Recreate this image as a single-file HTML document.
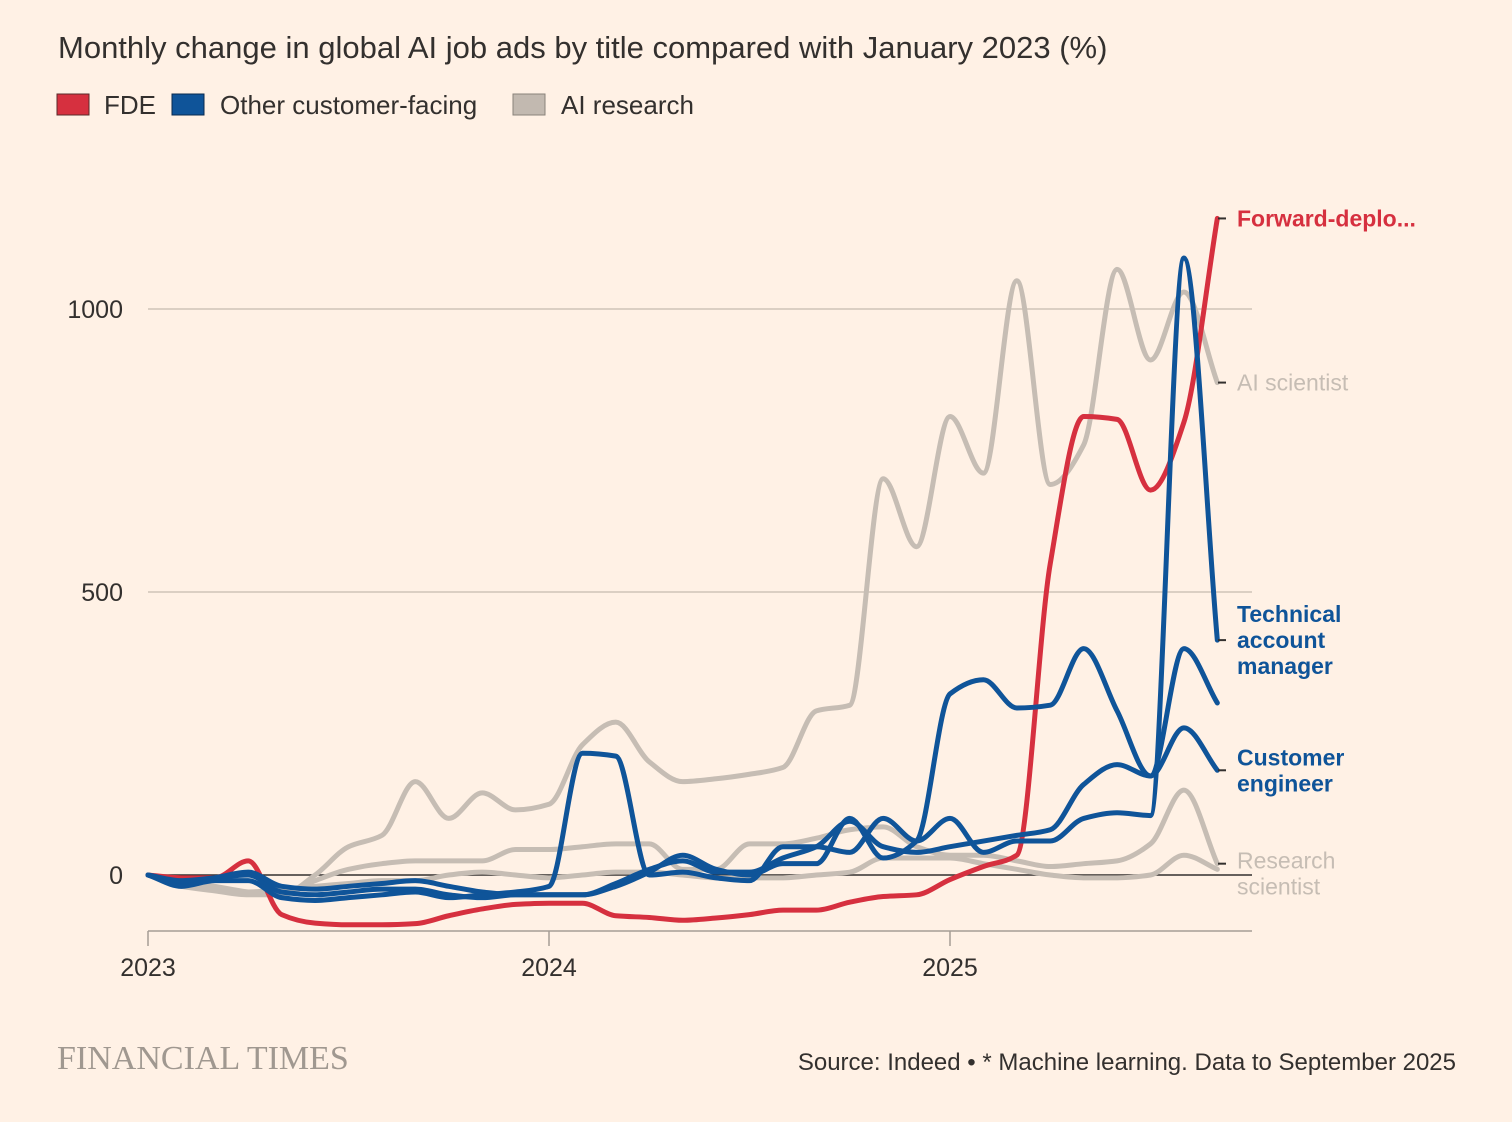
<!DOCTYPE html>
<html><head><meta charset="utf-8"><style>
body{margin:0;background:#fff1e5;}
svg{display:block;font-family:"Liberation Sans",sans-serif;}
</style></head><body>
<svg width="1512" height="1122" viewBox="0 0 1512 1122">
<rect width="1512" height="1122" fill="#fff1e5"/>
<text x="58" y="58" font-size="31" fill="#33302e">Monthly change in global AI job ads by title compared with January 2023 (%)</text>
<g font-size="26" fill="#33302e">
<rect x="57" y="94" width="32" height="21" fill="#d6303f" stroke="#5a2a2a" stroke-width="1"/>
<text x="104" y="114">FDE</text>
<rect x="172" y="94" width="32" height="21" fill="#0f5499" stroke="#0a2a50" stroke-width="1"/>
<text x="220" y="114">Other customer-facing</text>
<rect x="513" y="94" width="32" height="21" fill="#c2b9b0" stroke="#8a827a" stroke-width="1"/>
<text x="561" y="114">AI research</text>
</g>
<g id="axes"></g>
<g id="series"></g>
<g id="labels"></g>
<text x="57" y="1069" font-family="Liberation Serif,serif" font-size="34" fill="#a09890">FINANCIAL TIMES</text>
<text x="1456" y="1070" font-size="24" fill="#33302e" text-anchor="end">Source: Indeed • * Machine learning. Data to September 2025</text>
</svg>
<script>
const yTicks=[0,500,1000];
const xTickLabels=["2023","2024","2025"];
const fde=[0,-5,-5,25,-70,-85,-88,-88,-86,-72,-60,-52,-50,-50,-72,-75,-80,-76,-70,-62,-62,-48,-38,-35,-8,15,35,550,810,805,680,800,1160];
const aiScientist=[0,-20,-28,-35,-35,0,50,70,165,100,145,115,125,230,270,200,165,170,178,190,290,300,700,580,810,710,1050,690,760,1070,910,1030,870];
const researchScientist=[0,-10,-20,-30,-35,-10,10,20,25,25,25,45,45,50,55,55,10,10,55,55,65,80,85,50,35,35,25,15,20,25,55,150,20];
const mlScientist=[0,-15,-25,-30,-25,-20,-15,-10,-10,0,5,0,-5,0,5,5,0,-5,-5,-5,0,5,30,30,30,20,10,0,-5,-5,0,35,10];
const tam=[0,-20,-10,-10,-40,-45,-40,-35,-30,-40,-35,-30,-20,215,210,0,5,-5,-10,50,50,40,100,60,100,40,60,60,100,110,105,1090,415];
const otherBlue=[0,-15,-5,5,-20,-25,-20,-15,-10,-20,-30,-35,-35,-35,-20,5,35,10,0,20,20,100,30,60,320,345,295,300,400,290,175,400,304];
const customerEngineer=[0,-10,-5,0,-30,-35,-30,-25,-25,-35,-40,-35,-35,-35,-15,10,25,5,5,30,50,95,50,40,50,60,70,80,160,195,175,260,185];
const series=[
 {d:mlScientist,c:"#c6bdb4",n:"line-ml-scientist"},
 {d:researchScientist,c:"#c6bdb4",n:"line-research-scientist"},
 {d:aiScientist,c:"#c6bdb4",n:"line-ai-scientist"},
 {d:fde,c:"#d6303f",n:"line-forward-deployed-engineer"},
 {d:customerEngineer,c:"#0f5499",n:"line-customer-engineer"},
 {d:otherBlue,c:"#0f5499",n:"line-other-customer-facing"},
 {d:tam,c:"#0f5499",n:"line-technical-account-manager"}
];
const x=m=>148+m*(401/12);
const y=v=>875-v*0.566;
const NS="http://www.w3.org/2000/svg";
function mk(t,a,p){const e=document.createElementNS(NS,t);for(const k in a)e.setAttribute(k,a[k]);p.appendChild(e);return e;}
const ax=document.getElementById('axes');
yTicks.forEach(v=>{
 const l=mk('line',{x1:148,x2:1252,y1:y(v),y2:y(v),stroke:v===0?'#33302e':'#cfc4b8','stroke-width':1.5},ax);
 
 
 const t=mk('text',{x:123,y:y(v)+9,'text-anchor':'end','font-size':25,fill:'#33302e'},ax);
 t.textContent=v;
 
 
});
const xl=mk('line',{x1:148,x2:1252,y1:931,y2:931,stroke:'#a59d95','stroke-width':1.5},ax);


xTickLabels.forEach((s,i)=>{
 const tk=mk('line',{x1:x(i*12),x2:x(i*12),y1:931,y2:946,stroke:'#a59d95','stroke-width':1.5},ax);
 
 
 const t=mk('text',{x:x(i*12),y:976,'text-anchor':'middle','font-size':25,fill:'#33302e'},ax);
 t.textContent=s;
 
 
});
function path(d){
 const p=d.map((v,i)=>[x(i),y(v)]);const n=p.length;const h=p[1][0]-p[0][0];
 const dl=[];for(let i=0;i<n-1;i++)dl.push((p[i+1][1]-p[i][1])/h);
 const m=[];for(let i=0;i<n;i++){if(i===0)m.push(dl[0]);else if(i===n-1)m.push(dl[n-2]);else{const a=dl[i-1],b=dl[i];m.push(a*b<=0?0:2*a*b/(a+b));}}
 let s=`M${p[0][0]},${p[0][1]}`;
 for(let i=0;i<n-1;i++){s+=` C${p[i][0]+h/3},${p[i][1]+m[i]*h/3} ${p[i+1][0]-h/3},${p[i+1][1]-m[i+1]*h/3} ${p[i+1][0]},${p[i+1][1]}`;}
 return s;}
const sg=document.getElementById('series');
series.forEach(s=>{
 const e=mk('path',{d:path(s.d),fill:'none',stroke:s.c,'stroke-width':5,'stroke-linejoin':'round','stroke-linecap':'round'},sg);
 
 
});
const lg=document.getElementById('labels');
const labs=[
 {d:fde,t:["Forward-deplo..."],c:"#d6303f",dy:0,n:"label-fde"},
 {d:aiScientist,t:["AI scientist"],c:"#c6bdb4",dy:0,n:"label-ai-scientist"},
 {d:tam,t:["Technical","account","manager"],c:"#0f5499",dy:-26,n:"label-technical-account-manager"},
 {d:customerEngineer,t:["Customer","engineer"],c:"#0f5499",dy:-13,n:"label-customer-engineer"},
 {d:researchScientist,t:["Research","scientist"],c:"#c6bdb4",dy:-3,n:"label-research-scientist"}
];
labs.forEach(L=>{
 const yy=y(L.d[L.d.length-1]);
 const tk=mk('line',{x1:1218,x2:1226,y1:yy,y2:yy,stroke:'#33302e','stroke-width':2},lg);
 
 
 L.t.forEach((s,i)=>{
  const t=mk('text',{x:1237,y:yy+L.dy+i*26+8,'font-size':23,fill:L.c,'font-weight':L.c==="#c6bdb4"?'normal':'bold'},lg);
  t.textContent=s;
  
  
 });
});
</script>
</body></html>
